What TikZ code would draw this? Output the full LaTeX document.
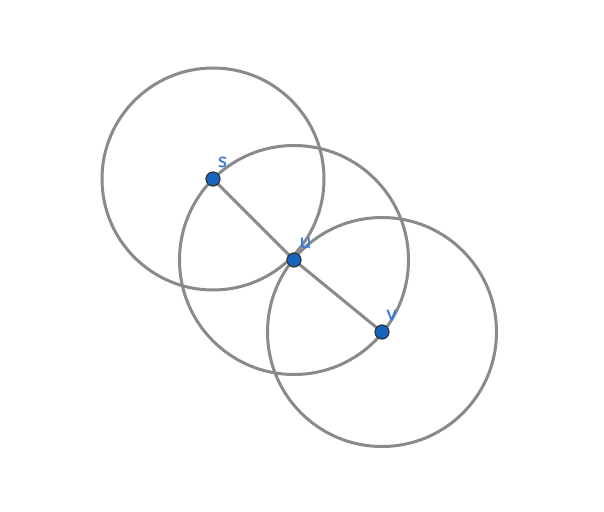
\documentclass[tikz,border=0pt]{standalone}
\usepackage{fontspec}
\setmainfont{Open Sans}
\newfontfamily\lblfont[FakeBold=1.5]{Open Sans}
\definecolor{ringgray}{RGB}{138,138,138}
\definecolor{ptblue}{RGB}{21,101,192}
\definecolor{lblblue}{RGB}{58,123,213}
\tikzset{
  ring/.style={draw=ringgray, line width=3pt},
  seg/.style={draw=ringgray, line width=3pt},
  pt/.style={circle, fill=ptblue, draw=black!80, line width=1.2pt, minimum size=14pt, inner sep=0pt},
  lbl/.style={text=lblblue, font=\lblfont\fontsize{19}{19}\selectfont, inner sep=0pt, anchor=base}
}
\begin{document}
\begin{tikzpicture}[x=1pt,y=-1pt]
\useasboundingbox (0,0) rectangle (604,511);
\coordinate (cs) at (213,179);
\coordinate (cu) at (294,260);
\coordinate (cv) at (382,332);
\draw[ring] (cs) circle[radius=111];
\draw[ring] (cu) circle[radius=114.5];
\draw[ring] (cv) circle[radius=114.5];
\draw[seg] (cs) -- (cu) -- (cv);
\node[pt] (s) at (cs) {};
\node[pt] (u) at (cu) {};
\node[pt] (v) at (cv) {};
\node[lbl] (ls) at (222.5,167) {s};
\node[lbl] (lu) at (305.5,248) {u};
\node[lbl] (lv) at (391.5,320) {v};
\end{tikzpicture}
\end{document}
